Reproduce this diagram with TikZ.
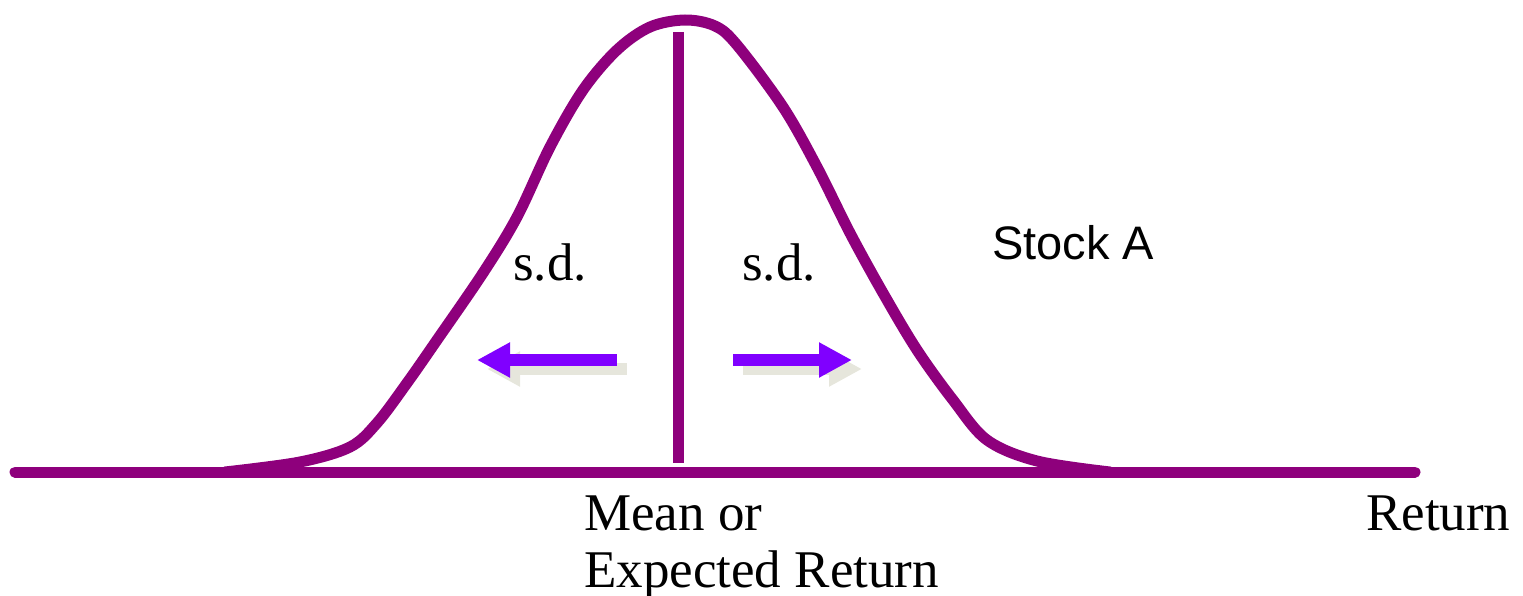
\documentclass[tikz,border=0pt]{standalone}
\usepackage{fontspec}
\setmainfont{Liberation Serif}
\newfontfamily\arialfont{Liberation Sans}
\usetikzlibrary{arrows.meta}
\definecolor{curvepurple}{RGB}{142,0,124}
\definecolor{arrowviolet}{RGB}{128,0,255}
\definecolor{shadowgray}{RGB}{230,230,220}
\tikzset{
  curveline/.style={draw=curvepurple, line width=11bp, line cap=round, line join=round},
  sdarrow/.style={draw=arrowviolet, line width=12bp, -{Triangle[length=33bp,width=33bp]}},
  sdshadow/.style={draw=shadowgray, line width=12bp, -{Triangle[length=33bp,width=33bp]}},
  seriflabel/.style={inner sep=0pt, anchor=base west, font=\fontsize{53bp}{58bp}\selectfont, text=black},
}
\begin{document}
\begin{tikzpicture}[x=1bp,y=-1bp]
\useasboundingbox (0,0) rectangle (1523,596);
% axis
\coordinate (axL) at (15,472);
\coordinate (axR) at (1415,472);
\draw[curveline] (axL) -- (axR);
% bell curve
\draw[curveline] plot[smooth, tension=0.55] coordinates {
 (225,472) (300,462) (350,447) (377,423) (407,383) (437,340) (483,273)
 (517,217) (550,147) (583,90) (617,50) (650,27) (685,20) (715,26)
 (737,45) (783,107) (817,167) (850,233) (883,293) (917,350) (953,400)
 (987,440) (1037,461) (1110,472)};
% mean line
\coordinate (mTop) at (678,32);
\coordinate (mBot) at (678,463);
\draw[draw=curvepurple, line width=11bp] (mTop) -- (mBot);
% arrows with shadow
\coordinate (lS) at (617,360);
\coordinate (lE) at (477,360);
\coordinate (rS) at (733,360);
\coordinate (rE) at (852,360);
\draw[sdshadow] ([shift={(10,9)}]lS) -- ([shift={(10,9)}]lE);
\draw[sdshadow] ([shift={(10,9)}]rS) -- ([shift={(10,9)}]rE);
\draw[sdarrow] (lS) -- (lE);
\draw[sdarrow] (rS) -- (rE);
% labels
\node[seriflabel] (sdl) at (513,280) {s.d.};
\node[seriflabel] (sdr) at (742,280) {s.d.};
\node[inner sep=0pt, anchor=base west, font=\arialfont\fontsize{47bp}{52bp}\selectfont] (stock) at (992,259) {Stock A};
\node[seriflabel] (mean) at (584,530) {Mean or};
\node[seriflabel] (exp) at (584,587) {Expected Return};
\node[seriflabel] (ret) at (1366,530) {Return};
\end{tikzpicture}
\end{document}
